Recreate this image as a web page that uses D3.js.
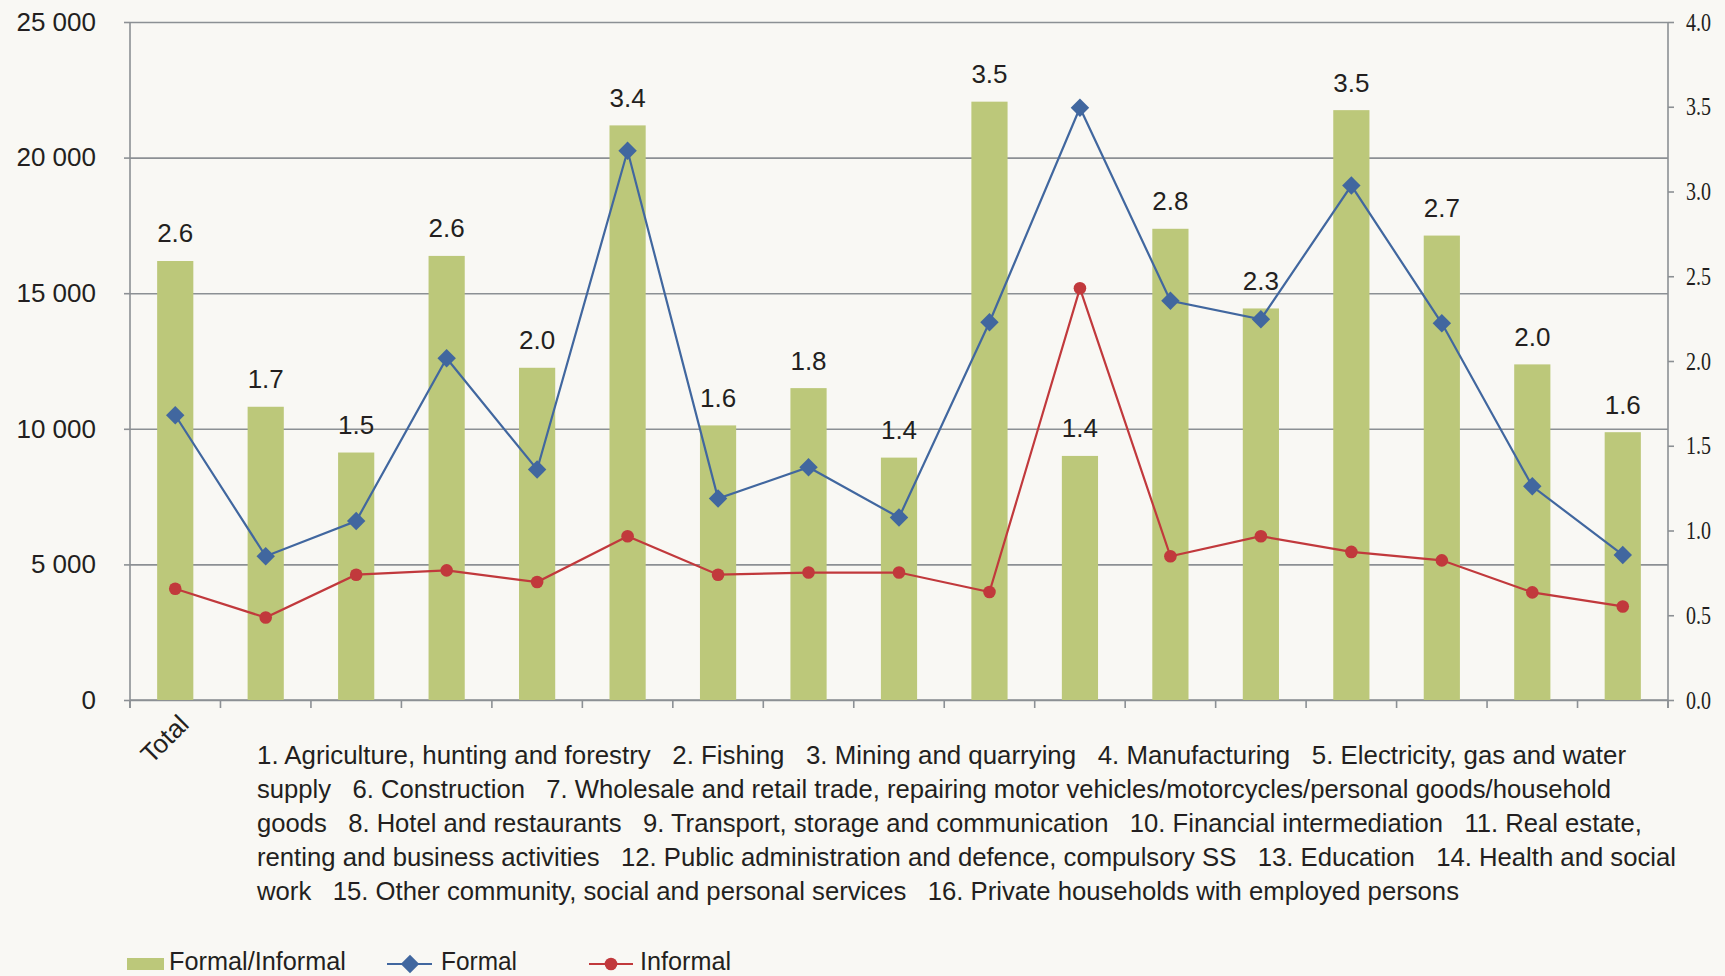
<!DOCTYPE html>
<html>
<head>
<meta charset="utf-8">
<script src="https://cdn.jsdelivr.net/npm/d3@7"></script>
<style>
  html, body { margin: 0; padding: 0; background: #f9f8f4; }
  svg { display: block; }
  .sans { font-family: "Liberation Sans", Arial, sans-serif; fill: #231f20; }
  .serif { font-family: "Liberation Serif", "Times New Roman", serif; fill: #231f20; }
</style>
</head>
<body>
<svg id="chart" width="1725" height="976"></svg>
<script>
// Sector codes along the x axis
const categories = ["Total", "1", "2", "3", "4", "5", "6", "7", "8", "9", "10", "11", "12", "13", "14", "15", "16"];
// Formal/Informal earnings ratio (right axis)
const ratioValues = [2.59, 1.73, 1.46, 2.62, 1.96, 3.39, 1.62, 1.84, 1.43, 3.53, 1.44, 2.78, 2.31, 3.48, 2.74, 1.98, 1.58];
// Average earnings, formal workers (left axis)
const formalValues = [10500, 5300, 6600, 12600, 8500, 20250, 7430, 8580, 6730, 13930, 21840, 14720, 14040, 18970, 13890, 7880, 5350];
// Average earnings, informal workers (left axis)
const informalValues = [4100, 3040, 4620, 4780, 4350, 6040, 4620, 4700, 4700, 3980, 15180, 5300, 6040, 5460, 5150, 3970, 3450];
// Axis ticks
const leftTicks = [0, 5000, 10000, 15000, 20000, 25000];
const rightTicks = [0, 0.5, 1.0, 1.5, 2.0, 2.5, 3.0, 3.5, 4.0];
// Sector key printed under the axis
const sectorKeyLines = [
  "1. Agriculture, hunting and forestry   2. Fishing   3. Mining and quarrying   4. Manufacturing   5. Electricity, gas and water",
  "supply   6. Construction   7. Wholesale and retail trade, repairing motor vehicles/motorcycles/personal goods/household",
  "goods   8. Hotel and restaurants   9. Transport, storage and communication   10. Financial intermediation   11. Real estate,",
  "renting and business activities   12. Public administration and defence, compulsory SS   13. Education   14. Health and social",
  "work   15. Other community, social and personal services   16. Private households with employed persons"
];
const seriesNames = ["Formal/Informal", "Formal", "Informal"];

// Layout: set widths of the condensed key lines and legend labels
const keyLineWidths = [1369, 1354, 1385, 1419, 1202];
const legendTextWidths = [177, 76, 91];

const COL = { bar: "#bcc87a", formal: "#41679f", informal: "#c1393c", grid: "#8c9094", text: "#231f20" };

const svg = d3.select("#chart");
const plotLeft = 130, plotRight = 1668, plotTop = 22, plotBottom = 700;

const x = d3.scaleBand().domain(categories).range([plotLeft, plotRight]);
const yL = d3.scaleLinear().domain([0, 25000]).range([plotBottom, plotTop]);
const yR = d3.scaleLinear().domain([0, 4]).range([plotBottom, plotTop]);
const cx = c => x(c) + x.bandwidth() / 2;

// Horizontal gridlines with left ticks
const gL = svg.append("g").attr("transform", `translate(${plotLeft},0)`)
  .call(d3.axisLeft(yL).tickValues(leftTicks).tickSize(6).tickPadding(28)
    .tickFormat(d => d3.format(",")(d).replace(/,/g, " ")));
gL.select(".domain").remove();
gL.selectAll(".tick line").attr("stroke", COL.grid).attr("stroke-width", 1.6);
gL.selectAll(".tick").append("line")
  .attr("x1", 0).attr("x2", plotRight - plotLeft)
  .attr("stroke", COL.grid).attr("stroke-width", 1.6);
gL.selectAll(".tick text").attr("class", "sans").attr("font-size", 26).attr("fill", COL.text);

// Left axis line
svg.append("line").attr("x1", plotLeft).attr("x2", plotLeft).attr("y1", plotTop).attr("y2", plotBottom + 8)
  .attr("stroke", COL.grid).attr("stroke-width", 1.6);

// Right axis (ratio)
const gR = svg.append("g").attr("transform", `translate(${plotRight},0)`)
  .call(d3.axisRight(yR).tickValues(rightTicks).tickSize(6).tickPadding(12).tickFormat(d3.format(".1f")));
gR.select(".domain").attr("stroke", COL.grid).attr("stroke-width", 1.6).attr("d", `M0,${plotTop}V${plotBottom + 8}`);
gR.selectAll(".tick line").attr("stroke", COL.grid).attr("stroke-width", 1.6);
gR.selectAll(".tick text").attr("class", "serif").attr("font-size", 25)
  .attr("textLength", 25).attr("lengthAdjust", "spacingAndGlyphs").attr("fill", COL.text);

// Bottom axis with ticks at category boundaries
const gB = svg.append("g").attr("transform", `translate(0,${plotBottom})`);
gB.append("line").attr("x1", plotLeft).attr("x2", plotRight).attr("stroke", COL.grid).attr("stroke-width", 1.6);
const boundaries = categories.map(c => x(c)).concat([plotRight]);
gB.selectAll("line.tk").data(boundaries).join("line").attr("class", "tk")
  .attr("x1", d => d).attr("x2", d => d).attr("y1", 0).attr("y2", 8)
  .attr("stroke", COL.grid).attr("stroke-width", 1.6);
gB.append("text").attr("class", "sans").attr("font-size", 26)
  .attr("text-anchor", "end")
  .attr("transform", `translate(${cx("Total") + 15},${26}) rotate(-45)`)
  .text(categories[0]);

// Ratio bars
const bw = x.bandwidth() * 0.4;
const barData = categories.map((c, i) => ({ c, v: ratioValues[i] }));
svg.append("g").selectAll("rect").data(barData).join("rect")
  .attr("x", d => cx(d.c) - bw / 2)
  .attr("width", bw)
  .attr("y", d => yR(d.v))
  .attr("height", d => yR(0) - yR(d.v))
  .attr("fill", COL.bar);

svg.append("g").selectAll("text").data(barData).join("text")
  .attr("class", "sans").attr("font-size", 26).attr("text-anchor", "middle")
  .attr("x", d => cx(d.c))
  .attr("y", d => yR(d.v) - 18.5)
  .text(d => d3.format(".1f")(d.v));

// Formal and informal lines
const line = d3.line().x(d => cx(d.c)).y(d => yL(d.v));
const formalData = categories.map((c, i) => ({ c, v: formalValues[i] }));
const informalData = categories.map((c, i) => ({ c, v: informalValues[i] }));

svg.append("path").datum(informalData).attr("d", line)
  .attr("fill", "none").attr("stroke", COL.informal).attr("stroke-width", 2.2);
svg.append("g").selectAll("circle").data(informalData).join("circle")
  .attr("cx", d => cx(d.c)).attr("cy", d => yL(d.v)).attr("r", 6.3)
  .attr("fill", COL.informal);

svg.append("path").datum(formalData).attr("d", line)
  .attr("fill", "none").attr("stroke", COL.formal).attr("stroke-width", 2.2);
const diamond = d3.symbol().type(d3.symbolSquare).size(170);
svg.append("g").selectAll("path").data(formalData).join("path")
  .attr("transform", d => `translate(${cx(d.c)},${yL(d.v)}) rotate(45)`)
  .attr("d", diamond)
  .attr("fill", COL.formal);

// Sector key
svg.append("g").selectAll("text").data(sectorKeyLines).join("text")
  .attr("class", "sans").attr("font-size", 25)
  .style("white-space", "pre")
  .attr("x", 257).attr("y", (d, i) => 764 + i * 34)
  .attr("textLength", (d, i) => keyLineWidths[i])
  .attr("lengthAdjust", "spacingAndGlyphs")
  .text(d => d);

// Legend
const lg = svg.append("g").attr("transform", "translate(0,963)");
lg.append("rect").attr("x", 127).attr("y", -5).attr("width", 37).attr("height", 12).attr("fill", COL.bar);
lg.append("line").attr("x1", 387).attr("x2", 432).attr("y1", 1).attr("y2", 1).attr("stroke", COL.formal).attr("stroke-width", 2.2);
lg.append("path").attr("transform", "translate(410,1) rotate(45)").attr("d", diamond).attr("fill", COL.formal);
lg.append("line").attr("x1", 589).attr("x2", 633).attr("y1", 1).attr("y2", 1).attr("stroke", COL.informal).attr("stroke-width", 2.2);
lg.append("circle").attr("cx", 611).attr("cy", 1).attr("r", 6.3).attr("fill", COL.informal);
const legendX = [169, 441, 640];
lg.selectAll("text").data(seriesNames).join("text")
  .attr("class", "sans").attr("font-size", 25)
  .attr("x", (d, i) => legendX[i]).attr("y", 7)
  .attr("textLength", (d, i) => legendTextWidths[i])
  .attr("lengthAdjust", "spacingAndGlyphs")
  .text(d => d);
</script>
</body>
</html>
